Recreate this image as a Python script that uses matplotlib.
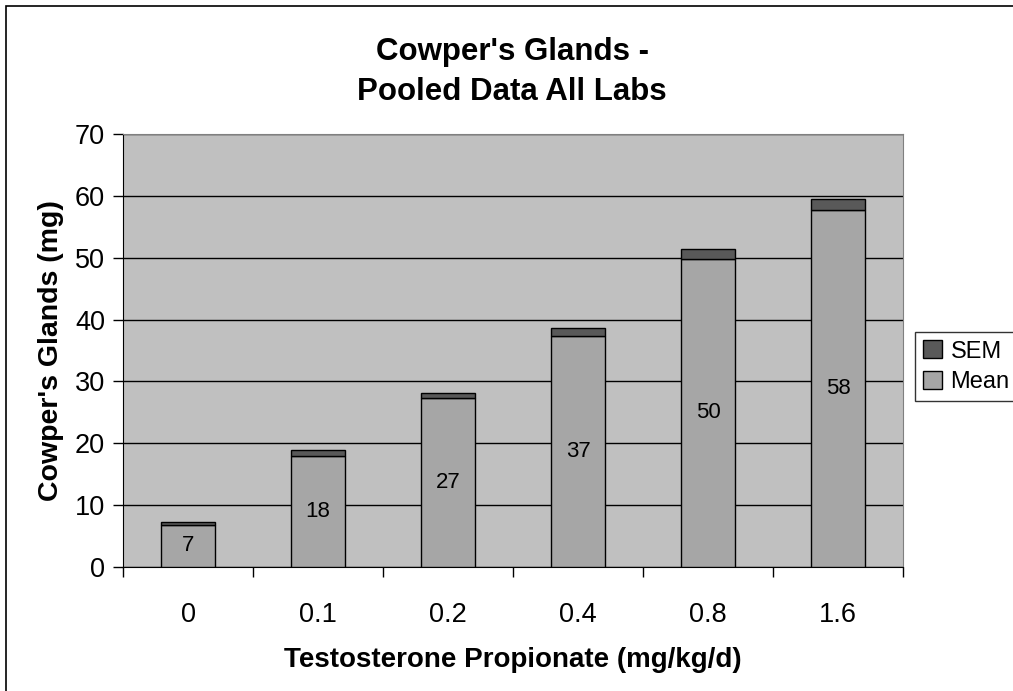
import numpy as np
import matplotlib.pyplot as plt
from matplotlib.patches import Rectangle

plt.rcParams['font.family'] = ['Liberation Sans', 'DejaVu Sans']

# dose groups and pooled means / SEM
doses = ['0', '0.1', '0.2', '0.4', '0.8', '1.6']
mean = [6.8, 18.0, 27.3, 37.4, 49.8, 57.7]
sem = [0.5, 0.85, 0.9, 1.2, 1.55, 1.85]

fig = plt.figure(figsize=(10.13, 6.91), dpi=100)
ax = fig.add_axes([123/1013, 1 - 567/691, 780/1013, 433/691])

x = np.arange(len(doses))
ax.set_facecolor('#C0C0C0')
b1 = ax.bar(x, mean, width=0.41, color='#A6A6A6', edgecolor='black', linewidth=1, label='Mean', zorder=3)
b2 = ax.bar(x, sem, width=0.41, bottom=mean, color='#595959', edgecolor='black', linewidth=1, label='SEM', zorder=3)
ax.bar_label(b1, fmt='%.0f', label_type='center', fontsize=16)

ax.set_xlim(-0.5, len(doses) - 0.5)
ax.set_ylim(0, 70)
ax.set_yticks(range(0, 71, 10))
ax.yaxis.grid(True, color='black', linewidth=1, zorder=1)
ax.set_axisbelow(True)

# ticks between categories on x
ax.set_xticks(x)
ax.set_xticklabels(doses, fontsize=19.5)
ax.set_xticks(np.arange(-0.5, len(doses), 1), minor=True)
ax.tick_params(axis='x', which='major', length=0, pad=25)
ax.tick_params(axis='x', which='minor', length=7, width=1, direction='out')
ax.tick_params(axis='y', labelsize=19.5, length=7, width=1, direction='out', pad=6)

for s in ['top', 'right']:
    ax.spines[s].set_color('#808080')
for s in ['left', 'bottom']:
    ax.spines[s].set_color('black')

# two-line title, placed like the original
fig.text(512/1013, 1 - 52/691, "Cowper's Glands -", fontsize=22.5, fontweight='bold', ha='center', va='center')
fig.text(512/1013, 1 - 92/691, "Pooled Data All Labs", fontsize=22.5, fontweight='bold', ha='center', va='center')

ax.set_xlabel('Testosterone Propionate (mg/kg/d)', fontsize=20, fontweight='bold', labelpad=14)
ax.set_ylabel("Cowper's Glands (mg)", fontsize=20.5, fontweight='bold', labelpad=8)

h, l = ax.get_legend_handles_labels()
leg = fig.legend(h[::-1], l[::-1], loc='upper left', bbox_to_anchor=(915/1013, 1 - 332/691),
                 fontsize=17, frameon=True, fancybox=False, edgecolor='black',
                 handlelength=0.8, handleheight=0.8, handletextpad=0.35,
                 borderpad=0.35, labelspacing=0.35, borderaxespad=0)
leg.get_frame().set_linewidth(1)

# outer chart border
fig.patches.append(Rectangle((6/1013, -0.1), 1.2, 1 - 6/691 + 0.1, transform=fig.transFigure,
                             fill=False, edgecolor='black', linewidth=1.2))

fig.savefig('out.png', dpi=100)
